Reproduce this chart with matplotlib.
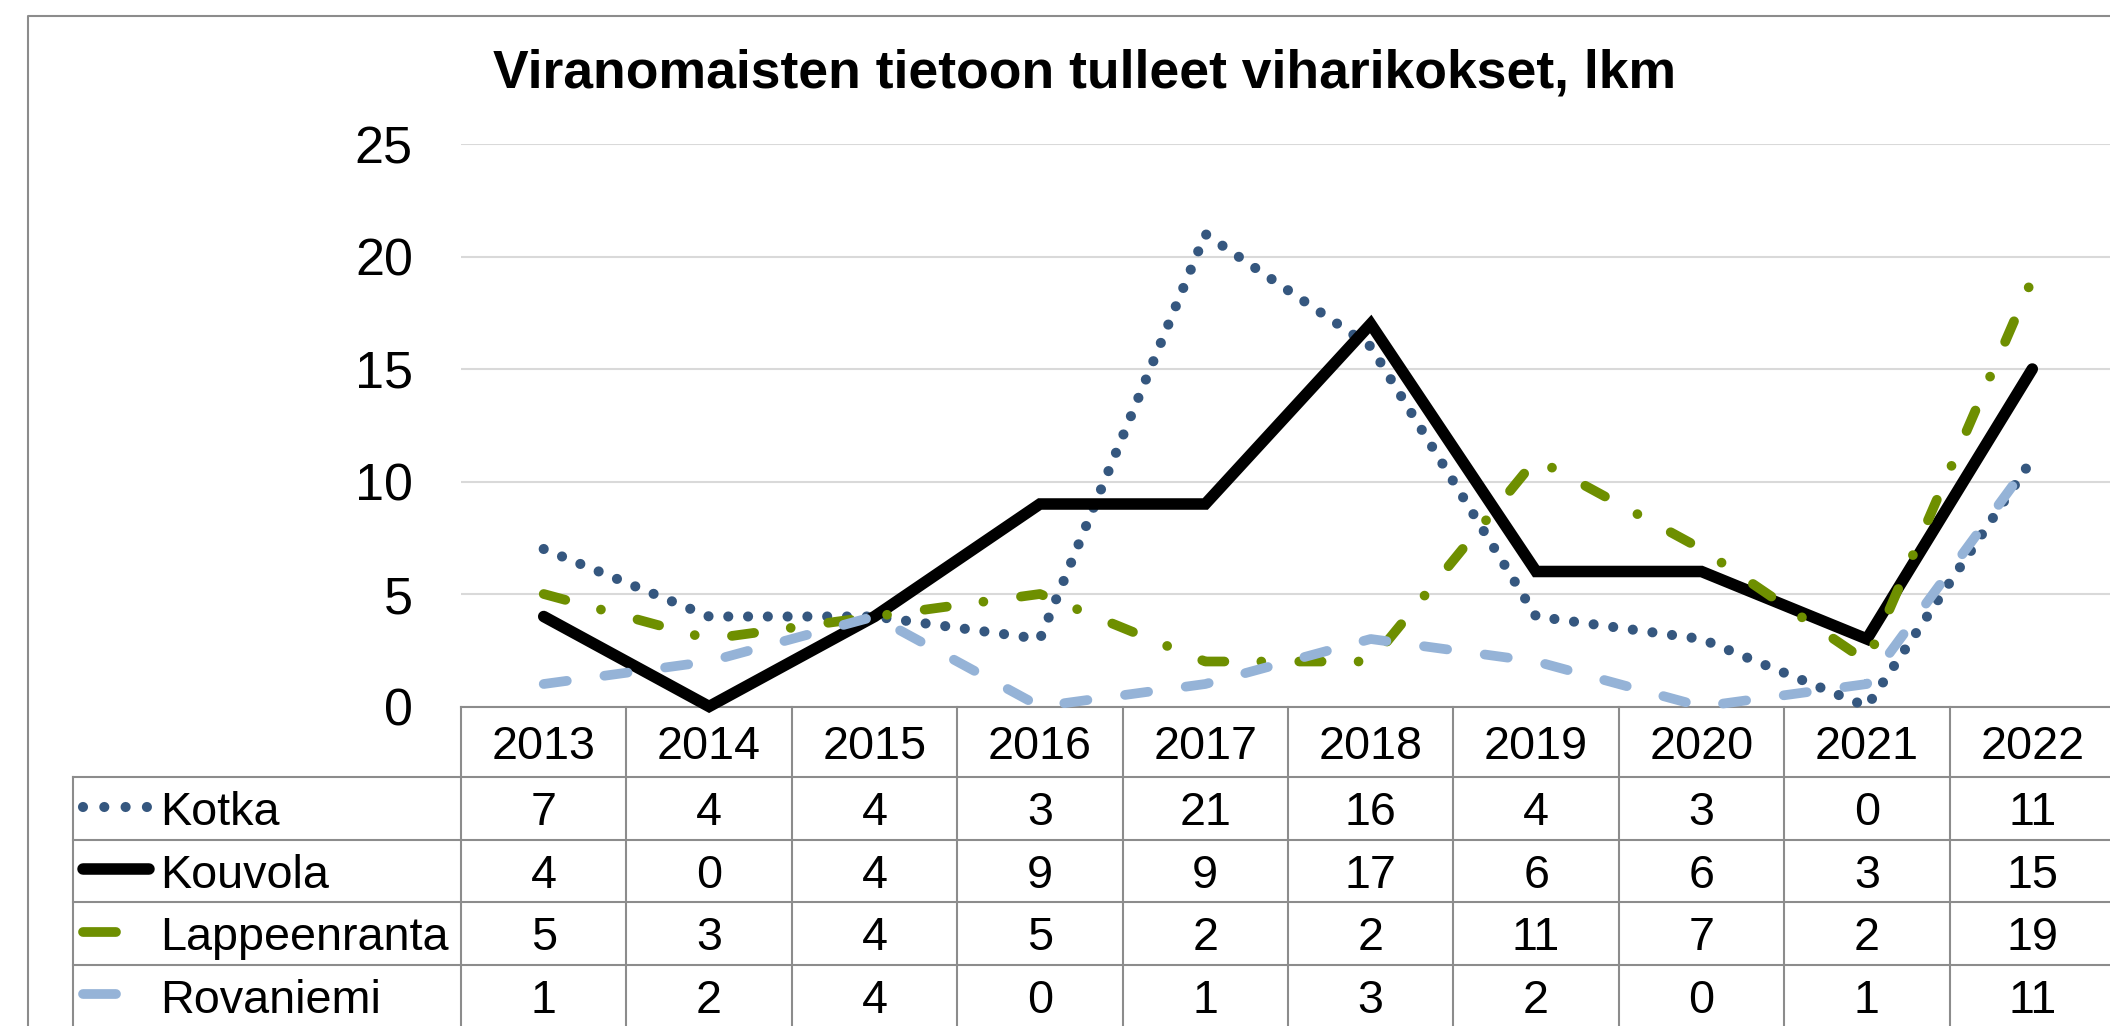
import matplotlib
matplotlib.use('Agg')
import matplotlib.pyplot as plt
from matplotlib.transforms import blended_transform_factory

plt.rcParams['font.family'] = ['Liberation Sans', 'DejaVu Sans']

# data
years = ['2013', '2014', '2015', '2016', '2017', '2018', '2019', '2020', '2021', '2022']
kotka = [7, 4, 4, 3, 21, 16, 4, 3, 0, 11]
kouvola = [4, 0, 4, 9, 9, 17, 6, 6, 3, 15]
lappeenranta = [5, 3, 4, 5, 2, 2, 11, 7, 2, 19]
rovaniemi = [1, 2, 4, 0, 1, 3, 2, 0, 1, 11]
names = ['Kotka', 'Kouvola', 'Lappeenranta', 'Rovaniemi']
title = 'Viranomaisten tietoon tulleet viharikokset, lkm'

# styles
colors = ['#35577f', '#000000', '#6e8f00', '#95b3d7']
widths = [7.3, 8.3, 7.0, 7.0]
styles = [(0, (0.001, 1.95)),
          '-',
          (0, (2.3, 3.8, 0.001, 3.9)),
          (0, (2.4, 3.9))]
grid_col = '#d9d9d9'
border_col = '#8c8c8c'

W, H = 2110, 1026
fig = plt.figure(figsize=(W / 100, H / 100), dpi=100)


def fx(px):
    return px / W


def fy(py):
    return 1 - py / H


# layout helper axes in pixel units (table grid, border, legend keys)
lay = fig.add_axes([0, 0, 1, 1], zorder=0)
lay.set_xlim(0, W)
lay.set_ylim(H, 0)
lay.axis('off')

top, base = 144, 706.5
ax = fig.add_axes([fx(461), fy(base), fx(2115) - fx(461), fy(top) - fy(base)], zorder=1)
ax.patch.set_alpha(0)

x = list(range(len(years)))
for vals, c, lw, ls in zip([kotka, kouvola, lappeenranta, rovaniemi], colors, widths, styles):
    ax.plot(x, vals, color=c, lw=lw, linestyle=ls, clip_on=False, zorder=2,
            solid_joinstyle='miter', dash_capstyle='round', solid_capstyle='round')

ax.set_xlim(-0.5, len(years) - 0.5)
ax.set_ylim(0, 25)
ax.set_yticks(range(0, 26, 5))
ax.set_xticks([])
ax.tick_params(axis='y', length=0, pad=34.6, labelsize=37.5, labelcolor='black')
ax.yaxis.grid(True, color=grid_col, lw=1.5)
ax.set_axisbelow(True)
for s in ['top', 'right', 'left']:
    ax.spines[s].set_visible(False)
ax.spines['bottom'].set_color(border_col)
ax.spines['bottom'].set_linewidth(1.5)
ax.spines['bottom'].set_zorder(1.5)

# title
fig.text(fx(1084.5), fy(87), title, ha='center', va='baseline', fontsize=38.5, fontweight='bold')

# outer chart border
lay.plot([27.7, 27.7, W + 10], [H + 10, 15.7, 15.7], color=border_col, lw=1.5, clip_on=False)

# data table under the chart
tr = blended_transform_factory(ax.transData, lay.transData)
rows = [777, 839.5, 902, 964.5, 1027]
tab_fs = 33.7
for k in range(len(years) + 1):
    lay.plot([k - 0.5, k - 0.5], [base, H + 5], color=border_col, lw=1.5, transform=tr, clip_on=False)
for r in rows[:-1]:
    lay.plot([73, W + 10], [r, r], color=border_col, lw=1.5, clip_on=False)
lay.plot([73, 73], [rows[0], H + 5], color=border_col, lw=1.5, clip_on=False)

for i, yr in enumerate(years):
    lay.text(i, (base + rows[0]) / 2, yr, transform=tr, ha='center', va='center_baseline', fontsize=tab_fs)

key_styles = [(0, (0.001, 2.1)), '-', '-', '-']
key_ends = [149, 149, 116, 116]
for j, (name, vals) in enumerate(zip(names, [kotka, kouvola, lappeenranta, rovaniemi])):
    yc = (rows[j] + rows[j + 1]) / 2
    for i, v in enumerate(vals):
        lay.text(i, yc, str(v), transform=tr, ha='center', va='center_baseline', fontsize=tab_fs)
    lay.text(160, yc, name, ha='left', va='center_baseline', fontsize=tab_fs)
    lay.plot([83, key_ends[j]], [yc - 1.5, yc - 1.5], color=colors[j], lw=widths[j],
             linestyle=key_styles[j], dash_capstyle='round', solid_capstyle='round')

fig.savefig('out.png', dpi=100)
